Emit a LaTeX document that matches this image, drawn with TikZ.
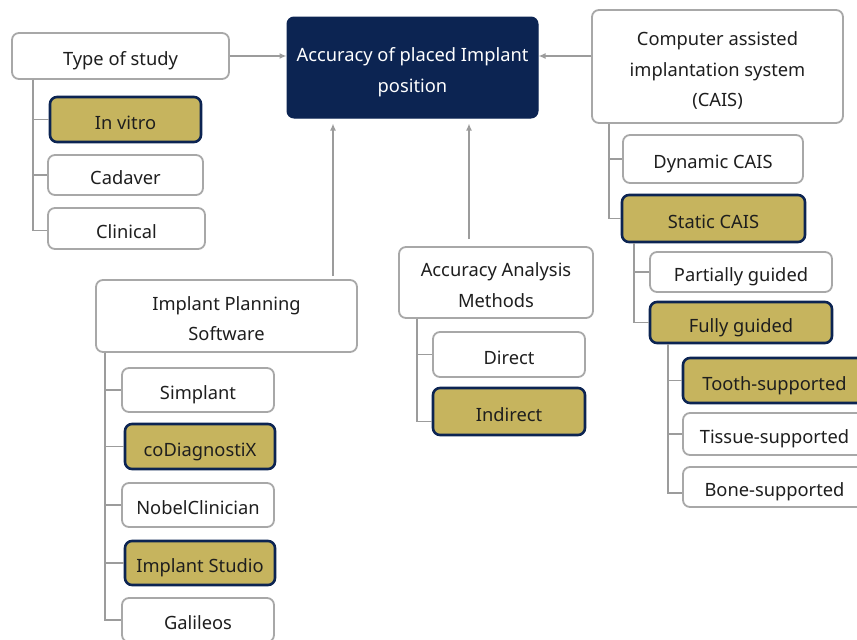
\documentclass[tikz,border=0pt]{standalone}
\usepackage{fontspec}
\usetikzlibrary{arrows.meta}
\setmainfont{Noto Sans}
\definecolor{boxgrey}{HTML}{A8A8A8}
\definecolor{linegrey}{HTML}{9C9C9C}
\definecolor{gold}{HTML}{C6B45E}
\definecolor{navy}{HTML}{0C2452}
\definecolor{txt}{HTML}{1E1E1E}
\newcommand\boxtext[1]{\raisebox{-3.5pt}[\height][\depth]{\begin{tabular}{@{}c@{}}#1\end{tabular}}}
\begin{document}
\begin{tikzpicture}[x=1pt,y=-1pt,
  base/.style={rounded corners=7pt, inner sep=0pt, text=txt,
    font=\fontsize{18.3}{30.5}\selectfont},
  wbox/.style={base, draw=boxgrey, line width=1.8pt, fill=white},
  gbox/.style={base, draw=navy, line width=2.6pt, fill=gold},
  cbox/.style={base, draw=navy, line width=1pt, fill=navy, text=white},
  tree/.style={draw=linegrey, line width=1.5pt},
  arr/.style={draw=linegrey, line width=1.5pt, -{Latex[length=7pt,width=6pt]}},
  sz/.style n args={2}{minimum width=#1pt, minimum height=#2pt}]
\useasboundingbox (0,0) rectangle (857,640);
% central
\node[cbox, sz={251}{101}] (center) at (412.5,67.5) {\boxtext{Accuracy of placed Implant\\position}};
% type of study
\node[wbox, sz={217}{46}] (type) at (120.5,56) {\boxtext{Type of study}};
\node[gbox, sz={151}{45}] (invitro) at (125.5,119.5) {\boxtext{In vitro}};
\node[wbox, sz={155}{40}] (cadaver) at (125.5,175) {\boxtext{Cadaver}};
\node[wbox, sz={157}{41}] (clinical) at (126.5,228.5) {\boxtext{Clinical}};
% CAIS
\node[wbox, sz={251}{113}] (cais) at (717.5,66.5) {\boxtext{Computer assisted\\implantation system\\(CAIS)}};
\node[wbox, sz={180}{48}] (dynamic) at (713,159) {\boxtext{Dynamic CAIS}};
\node[gbox, sz={183}{47}] (static) at (713.5,218.5) {\boxtext{Static CAIS}};
\node[wbox, sz={182}{40}] (partial) at (741,272) {\boxtext{Partially guided}};
\node[gbox, sz={182}{41}] (fully) at (741,322.5) {\boxtext{Fully guided}};
\node[gbox, sz={183}{45}] (tooth) at (774.5,380.5) {\boxtext{Tooth-supported}};
\node[wbox, sz={183}{42}] (tissue) at (774.5,434) {\boxtext{Tissue-supported}};
\node[wbox, sz={183}{40}] (bone) at (774.5,487) {\boxtext{Bone-supported}};
% accuracy analysis
\node[wbox, sz={194}{71}] (aam) at (496,282.5) {\boxtext{Accuracy Analysis\\Methods}};
\node[wbox, sz={152}{45}] (direct) at (509,354.5) {\boxtext{Direct}};
\node[gbox, sz={152}{47}] (indirect) at (509,411.5) {\boxtext{Indirect}};
% implant planning software
\node[wbox, sz={261}{72}] (ips) at (226.5,316) {\boxtext{Implant Planning\\Software}};
\node[wbox, sz={152}{44}] (simplant) at (198,390) {\boxtext{Simplant}};
\node[gbox, sz={150}{45}] (codiag) at (200,446.5) {\boxtext{coDiagnostiX}};
\node[wbox, sz={152}{44}] (nobel) at (198,505) {\boxtext{NobelClinician}};
\node[gbox, sz={150}{44}] (istudio) at (200,563) {\boxtext{Implant Studio}};
\node[wbox, sz={152}{44}] (galileos) at (198,620) {\boxtext{Galileos}};
% trunk x positions
\coordinate (tx1) at (33,0);
\coordinate (tx2) at (609,0);
\coordinate (tx3) at (634,0);
\coordinate (tx4) at (668,0);
\coordinate (tx5) at (417,0);
\coordinate (tx6) at (105,0);
\coordinate (ax1) at (333,0);
\coordinate (ax2) at (469,0);
% arrows to center
\draw[arr] (type.east) -- (type.east -| center.west);
\draw[arr] (cais.west |- type.east) -- (type.east -| center.east);
\draw[arr] ([yshift=3pt]ips.north -| ax1) -- ([yshift=-5pt]center.south -| ax1);
\draw[arr] ([yshift=7pt]aam.north -| ax2) -- ([yshift=-5pt]center.south -| ax2);
% trees
\draw[tree] (type.south -| tx1) |- (invitro.west);
\draw[tree] (type.south -| tx1) |- (cadaver.west);
\draw[tree] (type.south -| tx1) |- ([yshift=-2pt]clinical.west);
\draw[tree] (cais.south -| tx2) |- (dynamic.west);
\draw[tree] (cais.south -| tx2) |- (static.west);
\draw[tree] (static.south -| tx3) |- (partial.west);
\draw[tree] (static.south -| tx3) |- (fully.west);
\draw[tree] (fully.south -| tx4) |- (tooth.west);
\draw[tree] (fully.south -| tx4) |- (tissue.west);
\draw[tree] (fully.south -| tx4) |- ([yshift=-6pt]bone.west);
\draw[tree] (aam.south -| tx5) |- (direct.west);
\draw[tree] (aam.south -| tx5) |- ([yshift=-10pt]indirect.west);
\draw[tree] (ips.south -| tx6) |- (simplant.west);
\draw[tree] (ips.south -| tx6) |- (codiag.west);
\draw[tree] (ips.south -| tx6) |- (nobel.west);
\draw[tree] (ips.south -| tx6) |- (istudio.west);
\draw[tree] (ips.south -| tx6) |- (galileos.west);
\end{tikzpicture}
\end{document}
